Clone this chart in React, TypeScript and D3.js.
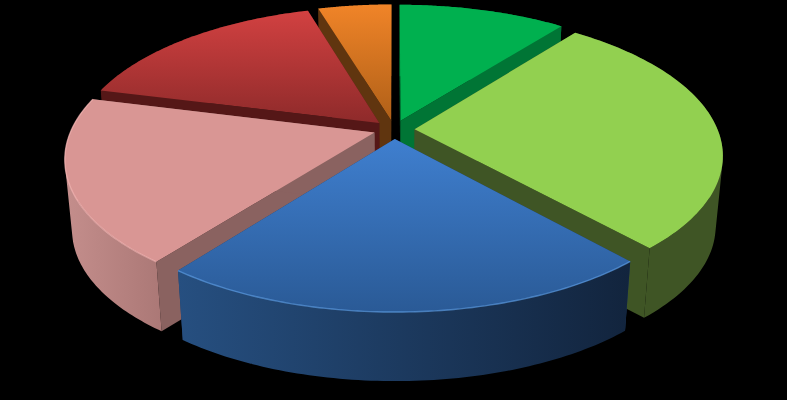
import React from "react";
import * as d3 from "d3";

// Slice shares in percent, clockwise from 12 o'clock
const sliceValues = [10.5, 27.9, 22.0, 18.6, 16.4, 4.6];
const sliceKeys = ["green", "lime", "blue", "pink", "red", "orange"];

const topFrom = ["#00b04f", "#92d050", "#3f7fcf", "#d99694", "#d24141", "#f08428"];
const topTo = ["#00b04f", "#92d050", "#2a5a96", "#d99694", "#8e2a2a", "#b06018"];
const wallFrom = ["#007535", "#3f5525", "#264f80", "#c48e8c", "#551717", "#60350f"];
const wallTo = ["#007535", "#3f5525", "#12243d", "#ab7876", "#551717", "#60350f"];
const cutColors = ["#007535", "#3f5525", "#1e3c64", "#8a6260", "#551717", "#60350f"];
const rimColors = ["none", "none", "#5b9be2", "#f2b4b2", "none", "none"];

const width = 787;
const height = 400;
const cx = 394;
const cy = 129.5;
const radiusX = 303;
const radiusY = 139;
const tilt = 0.175; // perspective: the far half of the pie is squeezed
const depth = 70.5;
const shrinkX = 0.022;
const shrinkY = 0.008;
const explode = 0.068;
const steps = 80;

type P = [number, number];

const App = () => {
  const pie = d3.pie<number>().sort(null).value((d) => d);
  const arcs = pie(sliceValues);
  const line = d3.line<P>();

  const slices = arcs.map((a, i) => {
    const mid = (a.startAngle + a.endAngle) / 2;
    const ou = explode * Math.sin(mid);
    const ov = explode * Math.cos(mid);
    const project = (t: number, r: number, z: number): P => {
      const u = ou + r * Math.sin(t);
      const v = ov + r * Math.cos(t);
      const w = 1 / (1 + tilt * v);
      return [
        cx + u * radiusX * w * (1 - shrinkX * z),
        cy - v * radiusY * w * (1 - shrinkY * z) + z * depth,
      ];
    };
    const angles = d3.range(0, steps + 1).map((k) => a.startAngle + ((a.endAngle - a.startAngle) * k) / steps);
    const topArc = angles.map((t) => project(t, 1, 0));
    const bottomArc = angles.map((t) => project(t, 1, 1));
    const apexTop = project(0, 0, 0);
    const apexBottom = project(0, 0, 1);
    const top = [apexTop, ...topArc];
    // the outer wall as one path of small quads, all wound the same way,
    // so the silhouette is a clean sweep with no seams
    const wall = d3
      .range(0, steps)
      .map((k) => {
        const q: P[] = [topArc[k], topArc[k + 1], bottomArc[k + 1], bottomArc[k]];
        return d3.polygonArea(q) < 0 ? q.reverse() : q;
      })
      .map((q) => line(q) + "Z")
      .join("");
    const cutA = [apexTop, topArc[0], bottomArc[0], apexBottom];
    const cutB = [apexTop, topArc[steps], bottomArc[steps], apexBottom];
    const xs = [...topArc, ...bottomArc].map((p) => p[0]);
    const ys = top.map((p) => p[1]);
    return {
      i,
      key: sliceKeys[i],
      order: -Math.cos(mid),
      top,
      topArc,
      wall,
      cutA,
      cutB,
      x0: d3.min(xs) as number,
      x1: d3.max(xs) as number,
      y0: d3.min(ys) as number,
      y1: d3.max(ys) as number,
    };
  });

  const drawOrder = slices.slice().sort((p, q) => d3.ascending(p.order, q.order));

  return (
    <svg
      width={width}
      height={height}
      style={{ position: "absolute", left: 0, top: 0, display: "block" }}
    >
      <defs>
        {slices.map((s) => (
          <React.Fragment key={s.key}>
            <linearGradient id={`top-${s.key}`} gradientUnits="userSpaceOnUse" x1={0} x2={0} y1={s.y0} y2={s.y1}>
              <stop offset="0" stopColor={topFrom[s.i]} />
              <stop offset="1" stopColor={topTo[s.i]} />
            </linearGradient>
            <linearGradient id={`wall-${s.key}`} gradientUnits="userSpaceOnUse" x1={s.x0} x2={s.x1} y1={0} y2={0}>
              <stop offset="0" stopColor={wallFrom[s.i]} />
              <stop offset="1" stopColor={wallTo[s.i]} />
            </linearGradient>
          </React.Fragment>
        ))}
        <filter id="soft" x="-5%" y="-5%" width="110%" height="110%">
          <feGaussianBlur stdDeviation="0.7" />
        </filter>
      </defs>
      <rect width={width} height={height} fill="#000" />
      {drawOrder.map((s) => (
        <g key={s.key}>
          <path d={line(s.cutA) + "Z"} fill={cutColors[s.i]} />
          <path d={line(s.cutB) + "Z"} fill={cutColors[s.i]} />
          <path d={s.wall} fill={`url(#wall-${s.key})`} fillRule="nonzero" />
          <path d={line(s.top) + "Z"} fill={`url(#top-${s.key})`} />
          {rimColors[s.i] !== "none" && (
            <path
              d={line(s.topArc) as string}
              fill="none"
              stroke={rimColors[s.i]}
              strokeWidth={1.4}
              strokeOpacity={0.7}
              filter="url(#soft)"
            />
          )}
        </g>
      ))}
    </svg>
  );
};

export default App;
